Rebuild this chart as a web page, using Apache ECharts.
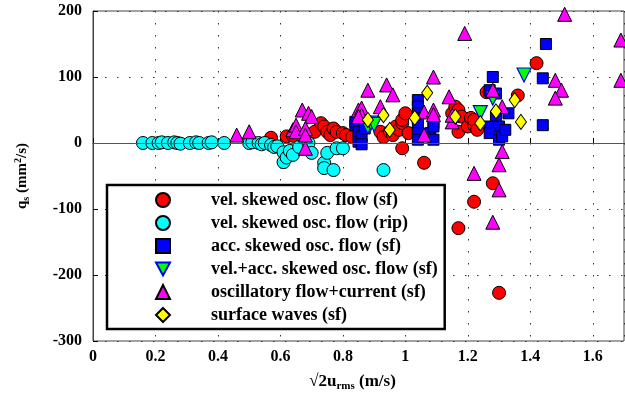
<!DOCTYPE html>
<html>
<head>
<meta charset="utf-8">
<script src="https://cdn.jsdelivr.net/npm/echarts@6/dist/echarts.min.js"></script>
<style>
  html, body { margin: 0; padding: 0; background: #fff; }
  #chart { width: 625px; height: 405px; }
</style>
</head>
<body>
<div id="chart"></div>
<script>
// [x (m/s), qs (mm^2/s)]
const velSkewedSf = [
  [0.57, 8], [0.62, 10], [0.64, 11], [0.69, 13], [0.71, 17], [0.73, 30], [0.74, 25], [0.75, 17],
  [0.76, 12], [0.77, 22], [0.78, 17], [0.80, 15], [0.81, 12], [0.83, 9], [0.92, 17], [0.93, 9],
  [0.95, 17], [0.96, 12], [0.97, 25], [0.98, 20], [0.99, 30], [0.99, 35], [1.00, 45], [1.01, 15],
  [0.99, -8], [1.06, -30], [1.15, 45], [1.16, 55], [1.17, 50], [1.17, 17], [1.18, 40], [1.20, 25],
  [1.21, 38], [1.22, 27], [1.22, 35], [1.23, 20], [1.26, 77], [1.27, 77], [1.36, 72], [1.42, 121],
  [1.28, -61], [1.22, -89], [1.17, -129], [1.30, -227]
];
const velSkewedRip = [
  [0.16, 0], [0.19, 0], [0.21, 0], [0.22, 1], [0.24, 0], [0.26, 1], [0.27, 0], [0.28, -1],
  [0.31, 0], [0.33, 1], [0.34, 0], [0.37, 0], [0.38, 1], [0.42, 0], [0.50, 0], [0.51, 1],
  [0.53, 0], [0.54, -2], [0.55, 0], [0.57, -3], [0.58, -6], [0.59, -5], [0.61, -14], [0.61, -29],
  [0.62, -22], [0.63, -12], [0.64, -18], [0.66, -6], [0.69, 0], [0.70, -15], [0.74, -30],
  [0.74, -38], [0.75, -15], [0.77, -41], [0.78, -8], [0.80, -8], [0.93, -41]
];
const accSkewedSf = [
  [0.84, 27], [0.84, 32], [0.85, 17], [0.85, 2], [0.86, 10], [0.87, 22], [0.86, -2],
  [1.04, 65], [1.04, 55], [1.04, 45], [1.04, 38], [1.04, 28], [1.04, 15], [1.04, 5],
  [1.08, 15], [1.09, 30], [1.09, 25], [1.09, 5], [1.28, 100], [1.27, 80], [1.29, 75],
  [1.29, 40], [1.27, 25], [1.30, 25], [1.27, 15], [1.30, 5], [1.31, 10], [1.32, 20],
  [1.33, 45], [1.45, 150], [1.44, 98], [1.44, 27]
];
const velAccSkewedSf = [
  [0.88, 25], [0.89, 30], [0.90, 28], [1.24, 46], [1.28, 68], [1.38, 103]
];
const oscFlowCurrentSf = [
  [0.46, 12], [0.50, 17], [0.64, 20], [0.65, 27], [0.65, 17], [0.67, 50], [0.69, 45], [0.70, 40],
  [0.68, 22], [0.68, 12], [0.68, -8], [0.85, 50], [0.86, 53], [0.86, 42], [0.85, 40], [0.88, 80],
  [0.92, 55], [0.94, 88], [0.96, 73], [1.06, 47], [1.06, 12], [1.09, 100], [1.09, 50], [1.09, 43],
  [1.14, 70], [1.15, 32], [1.15, 42], [1.19, 166], [1.28, 80], [1.31, 55], [1.31, -13],
  [1.30, -33], [1.22, -46], [1.30, -71], [1.28, -120], [1.48, 95], [1.50, 80], [1.48, 68],
  [1.51, 195], [1.69, 156], [1.69, 95]
];
const surfaceWavesSf = [
  [0.88, 35], [0.93, 42], [0.95, 20], [1.03, 38], [1.07, 76], [1.16, 40], [1.24, 30],
  [1.29, 48], [1.35, 65], [1.37, 32]
];

const legendNames = [
  'vel. skewed osc. flow (sf)',
  'vel. skewed osc. flow (rip)',
  'acc. skewed osc. flow (sf)',
  'vel.+acc. skewed osc. flow (sf)',
  'oscillatory flow+current (sf)',
  'surface waves (sf)'
];

const serif = '"Liberation Serif", "DejaVu Serif", serif';
const chart = echarts.init(document.getElementById('chart'));

const mk = (name, data, symbol, size, color, extra) => Object.assign({
  name,
  type: 'scatter',
  data,
  symbol,
  symbolSize: size,
  itemStyle: { color, borderColor: '#000', borderWidth: 1, opacity: 1 },
  emphasis: { disabled: true }
}, extra || {});

// the downward triangle needs its own legend icon
const legendData = legendNames.map((name, i) =>
  i === 3 ? { name, icon: 'path://M0,0 L12,0 L6,11 Z' } : { name }
);

chart.setOption({
  animation: false,
  backgroundColor: '#fff',
  grid: { left: 93, right: 1, top: 11, bottom: 64, show: true, borderColor: '#444', borderWidth: 1 },
  legend: {
    orient: 'vertical',
    left: 107,
    top: 185,
    data: legendData,
    itemWidth: 14,
    itemHeight: 14,
    itemGap: 5,
    symbolKeepAspect: true,
    padding: [6, 7, 5, 48],
    borderColor: '#000',
    borderWidth: 2.5,
    backgroundColor: '#fff',
    formatter: name => '{t|' + name + '}',
    textStyle: {
      rich: {
        t: { fontFamily: serif, fontWeight: 'bold', fontSize: 18, color: '#000', padding: [0, 0, 0, 36] }
      }
    }
  },
  xAxis: {
    type: 'value',
    min: 0,
    max: 1.7,
    interval: 0.2,
    name: '{a|√2u}{sub|rms}{a| (m/s)}',
    nameLocation: 'middle',
    nameGap: 31,
    nameTextStyle: {
      padding: [0, 12, 0, 0],
      rich: {
        a: { fontFamily: serif, fontWeight: 'bold', fontSize: 17, color: '#000' },
        sub: { fontFamily: serif, fontWeight: 'bold', fontSize: 11, color: '#000', verticalAlign: 'bottom', padding: [9, 0, 0, 0] }
      }
    },
    axisLine: { show: true, lineStyle: { color: '#444' } },
    axisTick: { show: true, inside: true, length: 5, lineStyle: { color: '#000' } },
    axisLabel: { showMaxLabel: false, margin: 8, fontFamily: serif, fontWeight: 'bold', fontSize: 16, color: '#000' },
    splitLine: { show: true, lineStyle: { color: '#333', type: [1.5, 10.5], width: 1 } }
  },
  yAxis: {
    type: 'value',
    min: -300,
    max: 200,
    interval: 100,
    name: '{a|q}{sub|s}{a| (mm}{sup|2}{a|/s)}',
    nameLocation: 'middle',
    nameGap: 62,
    nameTextStyle: {
      rich: {
        a: { fontFamily: serif, fontWeight: 'bold', fontSize: 15, color: '#000' },
        sub: { fontFamily: serif, fontWeight: 'bold', fontSize: 10, color: '#000', padding: [8, 0, 0, 0] },
        sup: { fontFamily: serif, fontWeight: 'bold', fontSize: 10, color: '#000', padding: [0, 0, 8, 0] }
      }
    },
    axisLine: { show: true, lineStyle: { color: '#444' } },
    axisTick: { show: true, inside: true, length: 5, lineStyle: { color: '#000' } },
    axisLabel: { margin: 11, fontFamily: serif, fontWeight: 'bold', fontSize: 16, color: '#000' },
    splitLine: { show: true, lineStyle: { color: '#333', type: [1.5, 10.5], width: 1 } }
  },
  series: [
    mk(legendNames[0], velSkewedSf, 'circle', 13, '#ff0000', {
      markLine: {
        silent: true,
        symbol: 'none',
        label: { show: false },
        lineStyle: { color: '#555', type: 'solid', width: 1.2 },
        data: [{ yAxis: 0 }]
      }
    }),
    mk(legendNames[1], velSkewedRip, 'circle', 13, '#00ffff'),
    mk(legendNames[2], accSkewedSf, 'rect', 11, '#0000ff'),
    {
      name: legendNames[3],
      type: 'scatter',
      data: velAccSkewedSf,
      symbol: 'triangle',
      symbolRotate: 180,
      symbolSize: 14,
      itemStyle: { color: '#00ff00', borderColor: '#0000ff', borderWidth: 1.2, opacity: 1 },
      emphasis: { disabled: true }
    },
    mk(legendNames[4], oscFlowCurrentSf, 'triangle', 14, '#ff00ff'),
    mk(legendNames[5], surfaceWavesSf, 'diamond', [11, 15], '#ffff00')
  ]
});
</script>
</body>
</html>
